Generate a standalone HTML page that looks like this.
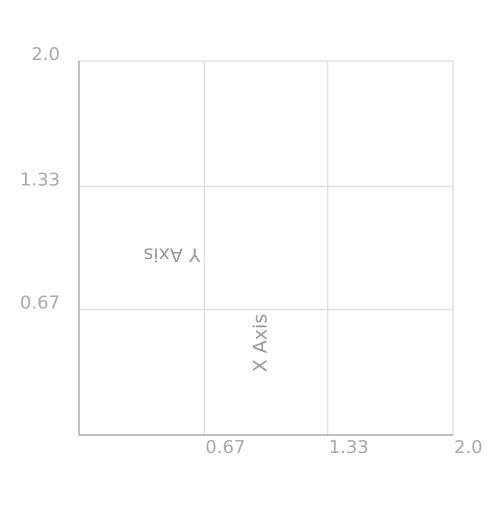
<!DOCTYPE html>
<html><head><meta charset="utf-8"><style>
body{margin:0;background:#fff;}
svg text{font-family:"DejaVu Sans","Liberation Sans",sans-serif;}
</style></head><body>
<svg width="500" height="500">
<g id="grid"></g>
<g id="axes"></g>
<g id="labels"></g>
<text x="172" y="254" transform="rotate(180 172 254)" text-anchor="middle" dominant-baseline="middle" font-size="19" fill="#999">Y Axis</text>
<text x="261" y="343" transform="rotate(-90 261 343)" text-anchor="middle" dominant-baseline="middle" font-size="19" fill="#999">X Axis</text>
</svg>
<script>
const xTicks=[0.67,1.33,2.0];
const xTickLabels=["0.67","1.33","2.0"];
const yTicks=[0.67,1.33,2.0];
const yTickLabels=["0.67","1.33","2.0"];
const x0=79,x1=453,y0=435,y1=61,dmin=0,dmax=2;
const sx=v=>x0+(v-dmin)/(dmax-dmin)*(x1-x0);
const sy=v=>y0-(v-dmin)/(dmax-dmin)*(y0-y1);
const NS="http://www.w3.org/2000/svg";
function mk(t,a,p){const e=document.createElementNS(NS,t);for(const k in a)e.setAttribute(k,a[k]);p.appendChild(e);return e;}
const g=document.getElementById('grid'),ax=document.getElementById('axes'),lb=document.getElementById('labels');
xTicks.forEach((v,i)=>{
 const l=mk('line',{x1:sx(v),x2:sx(v),y1:y1,y2:y0,stroke:'#d6d6d6','stroke-width':1},g);
 
 
 const t=mk('text',{x:sx(v)+1,y:453,'font-size':18,fill:'#aaa'},lb);
 t.textContent=xTickLabels[i];
 
 
});
yTicks.forEach((v,i)=>{
 const l=mk('line',{x1:x0,x2:x1,y1:sy(v),y2:sy(v),stroke:'#d6d6d6','stroke-width':1},g);
 
 
 const t=mk('text',{x:60,y:sy(v)-1,'font-size':18,fill:'#aaa','text-anchor':'end'},lb);
 t.textContent=yTickLabels[i];
 
 
});
const a1=mk('line',{x1:x0,x2:x0,y1:y1,y2:y0,stroke:'#999','stroke-width':1.2},ax);


const a2=mk('line',{x1:x0,x2:x1,y1:y0,y2:y0,stroke:'#999','stroke-width':1.2},ax);


</script>
</body></html>
